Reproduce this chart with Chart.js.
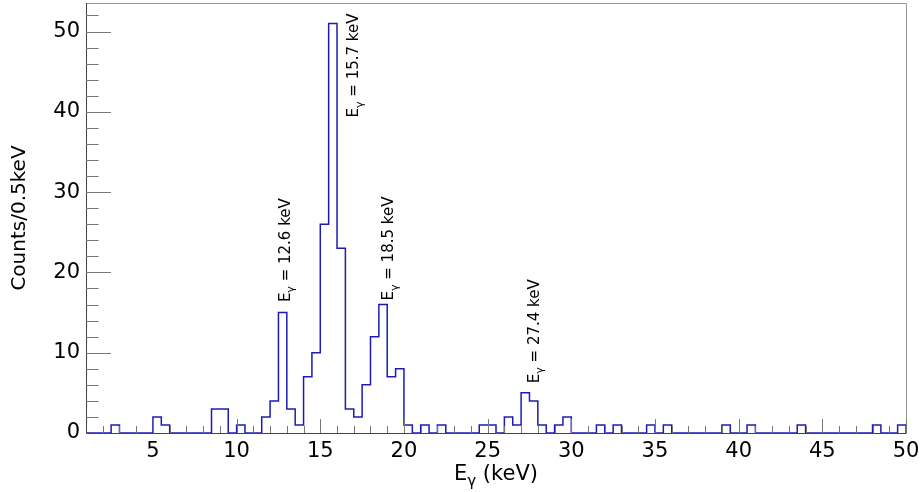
<!DOCTYPE html>
<html>
<head>
<meta charset="utf-8">
<script src="https://cdn.jsdelivr.net/npm/chart.js@4/dist/chart.umd.min.js"></script>
<style>
  html, body { margin: 0; padding: 0; background: #fff; }
</style>
</head>
<body>
<canvas id="chart" width="924" height="492"></canvas>
<script>
// binning of the spectrum (keV)
const binStart = 1;
const binWidth = 0.5;

// counts per 0.5 keV bin, first bin starts at 1 keV
const counts = [
  0, 0, 0, 1, 0, 0, 0, 0, 2, 1,
  0, 0, 0, 0, 0, 3, 3, 0, 1, 0,
  0, 2, 4, 15, 3, 1, 7, 10, 26, 51,
  23, 3, 2, 6, 12, 16, 7, 8, 1, 0,
  1, 0, 1, 0, 0, 0, 0, 1, 1, 0,
  2, 1, 5, 4, 1, 0, 1, 2, 0, 0,
  0, 1, 0, 1, 0, 0, 0, 1, 0, 1,
  0, 0, 0, 0, 0, 0, 1, 0, 0, 1,
  0, 0, 0, 0, 0, 1, 0, 0, 0, 0,
  0, 0, 0, 0, 1, 0, 0, 1,
];

const xTickLabels = [5, 10, 15, 20, 25, 30, 35, 40, 45, 50];
const yTickLabels = [0, 10, 20, 30, 40, 50];

// peak annotations: energy text, where the text starts (keV, counts)
const peakNames = ["12.6", "15.7", "18.5", "27.4"];
const peakX = [13.19, 17.28, 19.37, 28.04];
const peakY = [16.3, 39.3, 16.5, 6.2];

const FONT = "'DejaVu Sans', sans-serif";

// step outline points at the bin edges
const xEnd = binStart + counts.length * binWidth;
const points = counts.map((c, i) => ({ x: binStart + i * binWidth, y: c }));
points.push({ x: xEnd, y: counts[counts.length - 1] });
points.push({ x: xEnd, y: 0 });

// draws "E" with a subscript gamma, then the rest of the text
function drawEgamma(ctx, x, y, size, rest) {
  ctx.font = size + "px " + FONT;
  ctx.textAlign = "left";
  ctx.textBaseline = "alphabetic";
  ctx.fillText("E", x, y);
  let w = ctx.measureText("E").width;
  const sub = Math.round(size * 0.7);
  ctx.font = sub + "px " + FONT;
  ctx.fillText("γ", x + w, y + size * 0.28);
  w += ctx.measureText("γ").width;
  ctx.font = size + "px " + FONT;
  ctx.fillText(rest, x + w, y);
  return w + ctx.measureText(rest).width;
}

function egammaWidth(ctx, size, rest) {
  ctx.font = size + "px " + FONT;
  let w = ctx.measureText("E").width + ctx.measureText(rest).width;
  ctx.font = Math.round(size * 0.7) + "px " + FONT;
  return w + ctx.measureText("γ").width;
}

const rootFrame = {
  id: "rootFrame",
  afterDatasetsDraw(chart) {
    const { ctx, chartArea: a, scales: { x, y } } = chart;
    ctx.save();

    // frame
    ctx.lineWidth = 1;
    ctx.strokeStyle = "#999";
    ctx.beginPath();
    ctx.moveTo(a.left, a.top + 0.5);
    ctx.lineTo(a.right + 0.5, a.top + 0.5);
    ctx.lineTo(a.right + 0.5, a.bottom);
    ctx.stroke();
    ctx.strokeStyle = "#444";
    ctx.beginPath();
    ctx.moveTo(a.left + 0.5, a.top);
    ctx.lineTo(a.left + 0.5, a.bottom + 0.5);
    ctx.lineTo(a.right + 0.5, a.bottom + 0.5);
    ctx.stroke();

    // inward ticks
    ctx.strokeStyle = "#777";
    ctx.beginPath();
    for (let v = 2; v <= 50; v++) {
      const px = Math.round(x.getPixelForValue(v)) + 0.5;
      const len = v % 5 === 0 ? 14 : 7;
      ctx.moveTo(px, a.bottom);
      ctx.lineTo(px, a.bottom - len);
    }
    for (let v = 2; v <= 52; v += 2) {
      const py = Math.round(y.getPixelForValue(v)) + 0.5;
      const len = v % 10 === 0 ? 25 : 12.5;
      ctx.moveTo(a.left, py);
      ctx.lineTo(a.left + len, py);
    }
    ctx.stroke();

    ctx.fillStyle = "#000";

    // axis titles
    const xt = " (keV)";
    const xw = egammaWidth(ctx, 21, xt);
    drawEgamma(ctx, (a.left + a.right) / 2 - xw / 2, 480, 21, xt);

    ctx.save();
    ctx.translate(25, (a.top + a.bottom) / 2);
    ctx.rotate(-Math.PI / 2);
    ctx.font = "20px " + FONT;
    ctx.textAlign = "center";
    ctx.textBaseline = "alphabetic";
    ctx.fillText("Counts/0.5keV", 0, 0);
    ctx.restore();

    // peak labels
    peakNames.forEach((name, i) => {
      ctx.save();
      ctx.translate(x.getPixelForValue(peakX[i]), y.getPixelForValue(peakY[i]));
      ctx.rotate(-Math.PI / 2);
      drawEgamma(ctx, 0, 0, 15, " = " + name + " keV");
      ctx.restore();
    });

    ctx.restore();
  },
};

const chart = new Chart(document.getElementById("chart"), {
  type: "line",
  data: {
    datasets: [
      {
        data: points,
        stepped: "before",
        borderColor: "#1c1cb4",
        borderWidth: 1.5,
        pointRadius: 0,
        fill: false,
      },
    ],
  },
  options: {
    responsive: false,
    animation: false,
    events: [],
    layout: { padding: { left: 0, top: 3, right: 18, bottom: 0 } },
    plugins: { legend: { display: false }, tooltip: { enabled: false } },
    scales: {
      x: {
        type: "linear",
        min: binStart,
        max: xEnd,
        grid: { display: false, drawTicks: false },
        border: { display: false },
        ticks: {
          font: { family: FONT, size: 21 },
          color: "#000",
          padding: 6,
          maxRotation: 0,
          autoSkip: false,
        },
        afterBuildTicks: (axis) => {
          axis.ticks = xTickLabels.map((v) => ({ value: v }));
        },
        afterFit: (axis) => {
          axis.height = 59;
          axis.paddingLeft = 0;
          axis.paddingRight = 0;
        },
      },
      y: {
        min: 0,
        max: 53.55,
        grid: { display: false, drawTicks: false },
        border: { display: false },
        ticks: {
          font: { family: FONT, size: 21 },
          color: "#000",
          padding: 6,
        },
        afterBuildTicks: (axis) => {
          axis.ticks = yTickLabels.map((v) => ({ value: v }));
        },
        afterFit: (axis) => {
          axis.width = 86;
          axis.paddingTop = 0;
          axis.paddingBottom = 0;
        },
      },
    },
  },
  plugins: [rootFrame],
});
</script>
</body>
</html>
